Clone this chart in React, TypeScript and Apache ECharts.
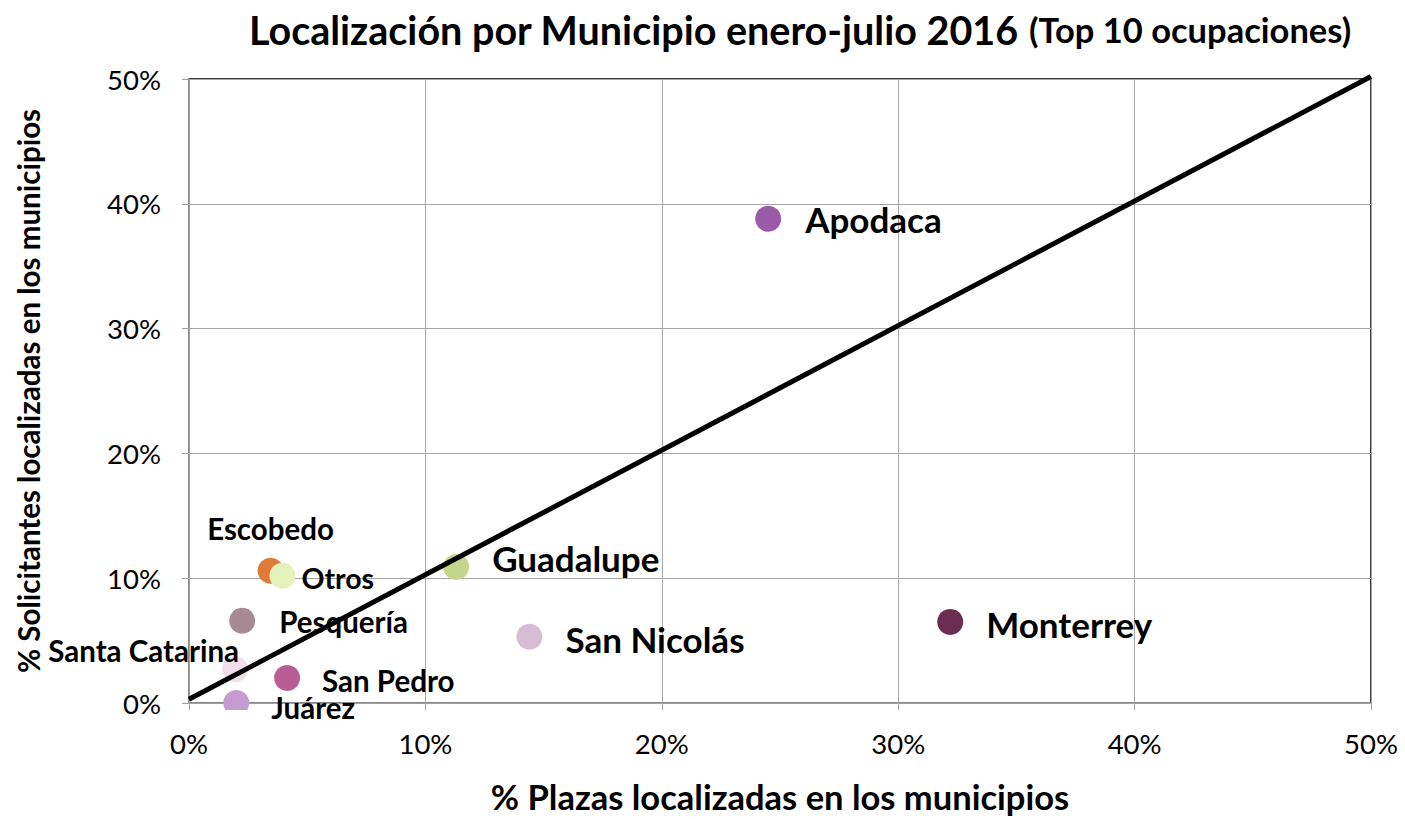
import React, { useEffect, useRef } from "react";
import * as echarts from "echarts";

const municipios = ["Apodaca", "Monterrey", "Guadalupe", "San Nicolás", "Escobedo", "Otros", "Pesquería", "Santa Catarina", "San Pedro", "Juárez"];
const plazas = [24.5, 32.2, 11.3, 14.4, 3.45, 3.95, 2.25, 1.95, 4.15, 2.0];
const solicitantes = [38.8, 6.5, 10.9, 5.3, 10.6, 10.2, 6.6, 2.7, 2.0, 0.0];
const colores = ["#9b5aa7", "#6c2d52", "#c3d68b", "#d7bcd3", "#e07c3a", "#e4f1b9", "#a78a94", "#f2ddeb", "#b95d94", "#c59cd1"];
const diagonalX = [0, 50];
const diagonalY = [0.3, 50.2];

const FONT = "Lato";

const labelCfg: Record<string, any> = {
  "Apodaca": { position: "right", distance: 24, fontSize: 35 },
  "Monterrey": { position: "right", distance: 23, fontSize: 35, offset: [0, 2] },
  "Guadalupe": { position: "right", distance: 23, fontSize: 35, offset: [0, -9] },
  "San Nicolás": { position: "right", distance: 23, fontSize: 35, offset: [0, 2] },
  "Escobedo": { position: "top", distance: 17, fontSize: 29.5 },
  "Otros": { position: "right", distance: 6, fontSize: 28.5, offset: [0, 2] },
  "Pesquería": { position: "right", distance: 24, fontSize: 29.5, offset: [0, 1] },
  "Santa Catarina": { position: "left", distance: 0, fontSize: 29.5, offset: [17, -19] },
  "San Pedro": { position: "right", distance: 22, fontSize: 29.5, offset: [0, 2] },
  "Juárez": { position: "right", distance: 22, fontSize: 29.5, offset: [0, 4] },
};

export default function App() {
  const ref = useRef<HTMLDivElement>(null);
  useEffect(() => {
    const chart = echarts.init(ref.current!, null, { renderer: "svg" });
    const data = municipios.map((m, i) => {
      const c = labelCfg[m];
      return {
        name: m,
        value: [plazas[i], solicitantes[i]],
        itemStyle: { color: colores[i], opacity: 1 },
        label: {
          show: true,
          formatter: "{b}",
          position: c.position,
          distance: c.distance,
          offset: c.offset || [0, 0],
          fontSize: c.fontSize,
          lineHeight: Math.round(c.fontSize * 0.85),
          fontWeight: "bold",
          fontFamily: FONT,
          color: "#000",
          opacity: 1,
        },
      };
    });
    chart.setOption({
      animation: false,
      backgroundColor: "#fff",
      title: {
        text: "{a|Localización por Municipio enero-julio 2016} {b|(Top 10 ocupaciones)}",
        left: 244,
        top: 4,
        textStyle: {
          rich: {
            a: { fontSize: 39.5, fontWeight: "bold", fontFamily: FONT, color: "#000" },
            b: { fontSize: 34.5, fontWeight: "bold", fontFamily: FONT, color: "#000", padding: [0, 0, 0, 5] },
          },
        },
      },
      grid: {
        left: 189, right: 34, top: 79, bottom: 110.5,
        show: true, borderColor: "#000", borderWidth: 1.5, backgroundColor: "transparent",
      },
      xAxis: {
        type: "value", min: 0, max: 50, interval: 10,
        name: "% Plazas localizadas en los municipios",
        nameLocation: "middle", nameGap: 76,
        nameTextStyle: { fontSize: 34.5, fontWeight: "bold", fontFamily: FONT, color: "#000" },
        axisLine: { show: true, lineStyle: { color: "#a0a0a0", width: 1.5 } },
        axisTick: { show: true, length: 7, lineStyle: { color: "#a0a0a0" } },
        axisLabel: { formatter: "{value}%", fontSize: 27.5, fontFamily: FONT, color: "#000", margin: 26 },
        splitLine: { show: true, lineStyle: { color: "#a6a6a6", width: 1 } },
      },
      yAxis: {
        type: "value", min: 0, max: 50, interval: 10,
        name: "% Solicitantes localizadas en los municipios",
        nameLocation: "middle", nameGap: 146, nameRotate: 90,
        nameTextStyle: { fontSize: 29.5, fontWeight: "bold", fontFamily: FONT, color: "#000" },
        axisLine: { show: true, lineStyle: { color: "#a0a0a0", width: 1.5 } },
        axisTick: { show: true, length: 7, lineStyle: { color: "#a0a0a0" } },
        axisLabel: { formatter: "{value}%", fontSize: 27.5, fontFamily: FONT, color: "#000", margin: 28 },
        splitLine: { show: true, lineStyle: { color: "#a6a6a6", width: 1 } },
      },
      series: [
        {
          type: "scatter",
          symbolSize: 26,
          data,
          z: 2,
          emphasis: { disabled: true },
        },
        {
          type: "line",
          data: diagonalX.map((x, i) => [x, diagonalY[i]]),
          showSymbol: false,
          symbol: "none",
          clip: false,
          lineStyle: { color: "#000", width: 5 },
          z: 3,
          silent: true,
        },
      ],
      graphic: [
        {
          type: "rect",
          shape: { x: 215, y: 710, width: 45, height: 14 },
          style: { fill: "#fff" },
          z: 10,
        },
      ],
    });
    return () => chart.dispose();
  }, []);
  return <div ref={ref} style={{ width: 1405, height: 819, position: "absolute", left: 0, top: 0 }} />;
}
